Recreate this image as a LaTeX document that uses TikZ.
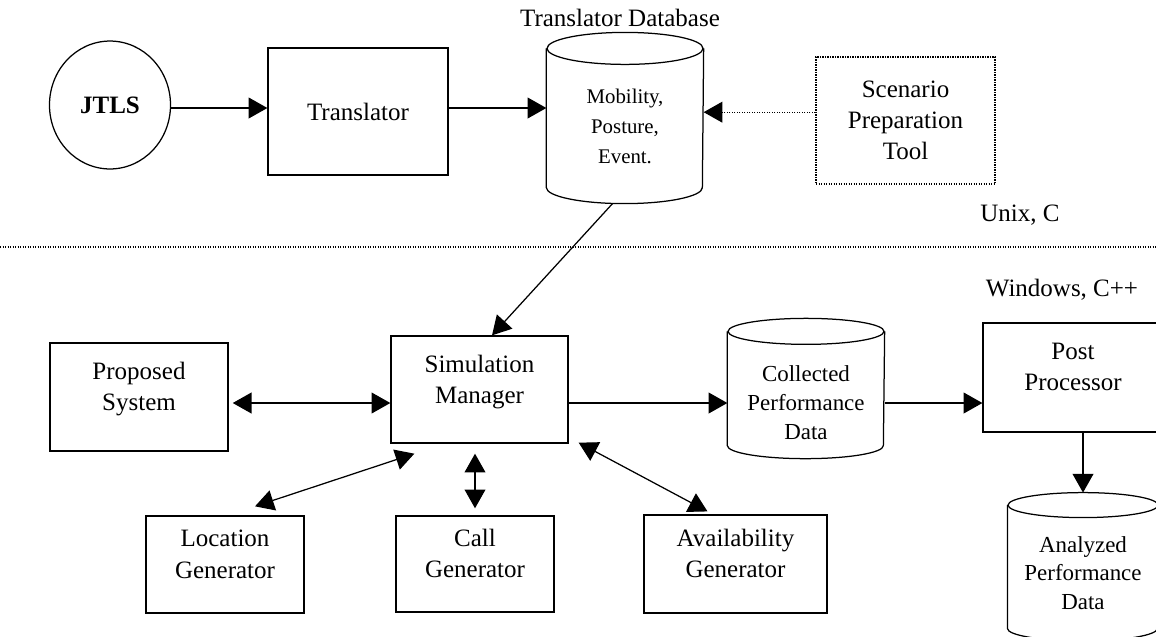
\documentclass[tikz,border=0pt]{standalone}
\usepackage{fontspec}
\setmainfont{Liberation Serif}
\usetikzlibrary{arrows.meta,shapes.geometric,calc}

\newcommand{\lift}{\rule[-10pt]{0pt}{10pt}}
\newcommand{\dbshape}[3]{%
  \draw (#1.north) ellipse[x radius=#2, y radius=#3];
  \draw (#1.north west) -- ([yshift=#3]#1.south west)
    arc[start angle=180, end angle=360, x radius=#2, y radius=#3] -- (#1.north east);
}

\begin{document}
\begin{tikzpicture}[x=0.48pt, y=-0.48pt, line width=0.6pt,
  blk/.style={draw, inner sep=0pt, align=center, font=\fontsize{12}{15}\selectfont},
  db/.style={inner sep=0pt, align=center, font=\fontsize{11}{13.7}\selectfont},
  lbl/.style={inner sep=0pt, font=\fontsize{12}{15}\selectfont},
  arr/.style={-{Triangle[length=9pt,width=10pt]}},
  dbl/.style={{Triangle[length=9pt,width=10pt]}-{Triangle[length=9pt,width=10pt]}},
  dotline/.style={dash pattern=on 0.6pt off 0.6pt}]
\useasboundingbox (0,0) rectangle (1156,636);
\coordinate (row1) at (0,108);
\coordinate (row2) at (0,403);
\coordinate (sepl) at (0,247);
\coordinate (sepr) at (1156,247);

\node[ellipse, draw, inner sep=0pt, minimum width=58.1pt, minimum height=61.4pt, font=\fontsize{12}{15}\selectfont\bfseries] (jtls) at (110,105) {JTLS};
\node[blk, minimum width=86.4pt, minimum height=61pt] (trans) at (358,111.5) {Translator};
\node[db, minimum width=74.9pt, minimum height=73.9pt, font=\fontsize{10}{14.4}\selectfont] (tdb) at (625,126) {Mobility,\\Posture,\\Event.};
\dbshape{tdb}{37.44pt}{7.68pt}
\node[lbl] (tdbname) at (620,18) {Translator Database};
\node[blk, dotline, minimum width=85.9pt, minimum height=61pt] (scen) at (905.5,120.5) {Scenario\\Preparation\\Tool};
\node[lbl] (unix) at (1020,215) {Unix, C};
\node[lbl] (win) at (1062,290) {Windows, C++};
\draw[dotline] (sepl) -- (sepr);

\node[blk, minimum width=85.4pt, minimum height=51.8pt] (prop) at (139,397) {Proposed\\System\lift};
\node[blk, minimum width=85pt, minimum height=51.4pt] (sim) at (479.5,389.5) {Simulation\\Manager\lift};
\node[db, minimum width=74.9pt, minimum height=60.5pt] (coll) at (806,395) {\rule{0pt}{15pt}Collected\\Performance\\Data};
\dbshape{coll}{37.44pt}{6.24pt}
\node[blk, minimum width=86.4pt, minimum height=52.3pt] (post) at (1073,377.5) {Post\\Processor\lift};
\node[db, minimum width=72pt, minimum height=64.6pt] (ana) at (1083,573) {Analyzed\\Performance\\Data};
\dbshape{ana}{36pt}{6pt}
\node[blk, minimum width=75.8pt, minimum height=46.6pt] (loc) at (225,564.5) {Location\\Generator\lift};
\node[blk, minimum width=75.8pt, minimum height=46.1pt] (call) at (475,564) {Call\\Generator\lift};
\node[blk, minimum width=87.8pt, minimum height=47pt] (avail) at (735.5,564) {Availability\\Generator\lift};

\draw[arr] (jtls.east |- row1) -- (trans.west |- row1);
\draw[arr] (trans.east |- row1) -- (tdb.west |- row1);
\draw[arr, dotline] ([yshift=-2pt]scen.west |- row1) -- ([yshift=-2pt]tdb.east |- row1);
\draw[arr] ([xshift=-6pt]tdb.south) -- ([xshift=6pt]sim.north);
\draw[dbl, shorten <=2pt] (prop.east |- row2) -- (sim.west |- row2);
\draw[arr] (sim.east |- row2) -- (coll.west |- row2);
\draw[arr] (coll.east |- row2) -- (post.west |- row2);
\draw[arr] (post.south -| ana.north) -- ([yshift=6pt]ana.north);
\draw[dbl] ($(loc.north)+(30,-9)$) -- ($(sim.south west)+(24,10)$);
\draw[dbl] ([yshift=3.4pt]call.north) -- ([yshift=-4.8pt]call.north |- sim.south);
\draw[dbl] ($(avail.north)+(-28,-3)$) -- ($(sim.south east)+(10,-1)$);
\end{tikzpicture}
\end{document}
